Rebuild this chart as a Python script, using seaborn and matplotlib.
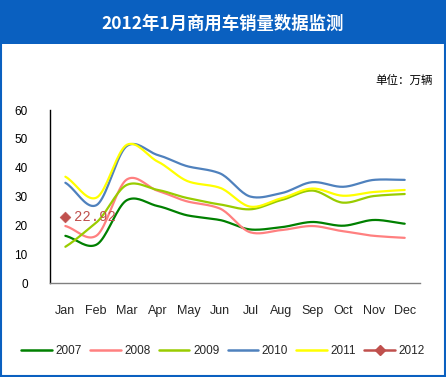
import numpy as np
import pandas as pd
import matplotlib
matplotlib.use("Agg")
import matplotlib.pyplot as plt
from matplotlib.lines import Line2D
from matplotlib.patches import Rectangle
import seaborn as sns

# 月份与各年份商用车销量（万辆）
months = ["Jan", "Feb", "Mar", "Apr", "May", "Jun", "Jul", "Aug", "Sep", "Oct", "Nov", "Dec"]
sales_2007 = [16.4, 13.3, 28.8, 26.7, 23.4, 21.9, 18.6, 19.4, 21.2, 19.9, 21.9, 20.6]
sales_2008 = [19.8, 16.4, 36.0, 32.0, 28.2, 25.9, 17.6, 18.4, 19.8, 18.0, 16.4, 15.7]
sales_2009 = [12.6, 21.0, 34.1, 32.3, 29.4, 27.3, 25.6, 28.8, 32.1, 27.9, 30.2, 30.9]
sales_2010 = [34.8, 27.0, 47.6, 44.4, 40.4, 38.1, 30.0, 31.2, 35.0, 33.4, 35.8, 35.8]
sales_2011 = [36.9, 29.6, 48.0, 42.1, 35.2, 33.1, 26.5, 29.4, 32.8, 30.3, 31.6, 32.3]
sales_2012 = [22.92]

years = ["2007", "2008", "2009", "2010", "2011"]
series = [sales_2007, sales_2008, sales_2009, sales_2010, sales_2011]
colors = {"2007": "#008000", "2008": "#FF8080", "2009": "#99CC00",
          "2010": "#4F81BD", "2011": "#FFFF00", "2012": "#C0504D"}


def smooth(y, n=20, k=0.4):
    # Hermite 平滑（类似 Excel 的平滑线）
    y = np.asarray(y, dtype=float)
    m = np.zeros_like(y)
    m[1:-1] = k * (y[2:] - y[:-2])
    m[0] = 2 * k * (y[1] - y[0])
    m[-1] = 2 * k * (y[-1] - y[-2])
    xs, ys = [], []
    t = np.linspace(0, 1, n, endpoint=False)
    h00 = 2 * t ** 3 - 3 * t ** 2 + 1
    h10 = t ** 3 - 2 * t ** 2 + t
    h01 = -2 * t ** 3 + 3 * t ** 2
    h11 = t ** 3 - t ** 2
    for i in range(len(y) - 1):
        xs.append(i + t)
        ys.append(h00 * y[i] + h10 * m[i] + h01 * y[i + 1] + h11 * m[i + 1])
    xs.append([len(y) - 1])
    ys.append([y[-1]])
    return np.concatenate(xs), np.concatenate(ys)


frames = []
for yr, vals in zip(years, series):
    xs, ys = smooth(vals)
    frames.append(pd.DataFrame({"x": xs, "销量": ys, "年份": yr}))
df = pd.concat(frames, ignore_index=True)

sns.set_theme(style="white")
plt.rcParams["font.family"] = ["Liberation Sans", "Noto Sans CJK SC", "DejaVu Sans"]

fig = plt.figure(figsize=(4.46, 3.77), dpi=100)
fig.patch.set_facecolor("white")

# 标题栏与边框
fig.add_artist(Rectangle((0, 0.883), 1, 0.117, transform=fig.transFigure,
                         facecolor="#0A60C0", edgecolor="none"))
fig.add_artist(Rectangle((0.002, 0.003), 0.996, 0.994, transform=fig.transFigure,
                         facecolor="none", edgecolor="#0A60C0", linewidth=1.5))
fig.text(0.5, 0.936, "2012年1月商用车销量数据监测", color="white", fontsize=12.5,
         fontweight="bold", ha="center", va="center",
         family=["Noto Sans CJK SC", "DejaVu Sans"])
fig.text(0.971, 0.788, "单位：万辆", color="black", fontsize=8.3, ha="right", va="center",
         family=["Noto Sans CJK SC", "DejaVu Sans"])

ax = fig.add_axes([0.112, 0.249, 0.830, 0.459])
sns.lineplot(data=df, x="x", y="销量", hue="年份", palette=colors, sort=False,
             estimator=None, linewidth=1.6, legend=False, ax=ax)

# 2012 数据点
df12 = pd.DataFrame({"x": np.arange(len(sales_2012)), "销量": sales_2012})
sns.scatterplot(data=df12, x="x", y="销量", marker="D", s=30, color=colors["2012"],
                edgecolor=colors["2012"], zorder=5, ax=ax)
ax.annotate(f"{sales_2012[0]:.2f}", (0, sales_2012[0]), xytext=(6, 0),
            textcoords="offset points", va="center", ha="left", fontsize=10,
            color=colors["2012"], family="Liberation Mono", zorder=6)

ax.set_xlim(-0.5, 11.5)
ax.set_ylim(0, 60)
ax.set_yticks(range(0, 61, 10))
ax.set_xticks(range(12))
ax.set_xticklabels(months, fontsize=9)
ax.set_xticks(np.arange(-0.5, 12, 1), minor=True)
ax.set_yticks([60], minor=True)
ax.tick_params(axis="y", which="major", length=0, pad=16, labelsize=8.5, labelcolor="black")
ax.tick_params(axis="y", which="minor", length=3, direction="in", color="black", width=1)
ax.tick_params(axis="x", which="major", length=0, pad=16)
ax.tick_params(axis="x", which="minor", length=3, direction="in", color="#808080", width=1)
ax.set_xlabel("")
ax.set_ylabel("")
for s in ["top", "right"]:
    ax.spines[s].set_visible(False)
ax.spines["left"].set_color("black")
ax.spines["left"].set_linewidth(1)
ax.spines["bottom"].set_color("#808080")
ax.spines["bottom"].set_linewidth(1)
ax.grid(False)
ax.set_facecolor("white")

handles = [Line2D([], [], color=colors[y], linewidth=1.8) for y in years]
handles.append(Line2D([], [], color=colors["2012"], linewidth=1.8, marker="D", markersize=5))
fig.legend(handles, years + ["2012"], loc="center", bbox_to_anchor=(0.5, 0.069), ncol=6,
           frameon=False, fontsize=8.5, handlelength=2.6, handletextpad=0.3,
           columnspacing=0.7)

fig.savefig("out.png", dpi=100)
